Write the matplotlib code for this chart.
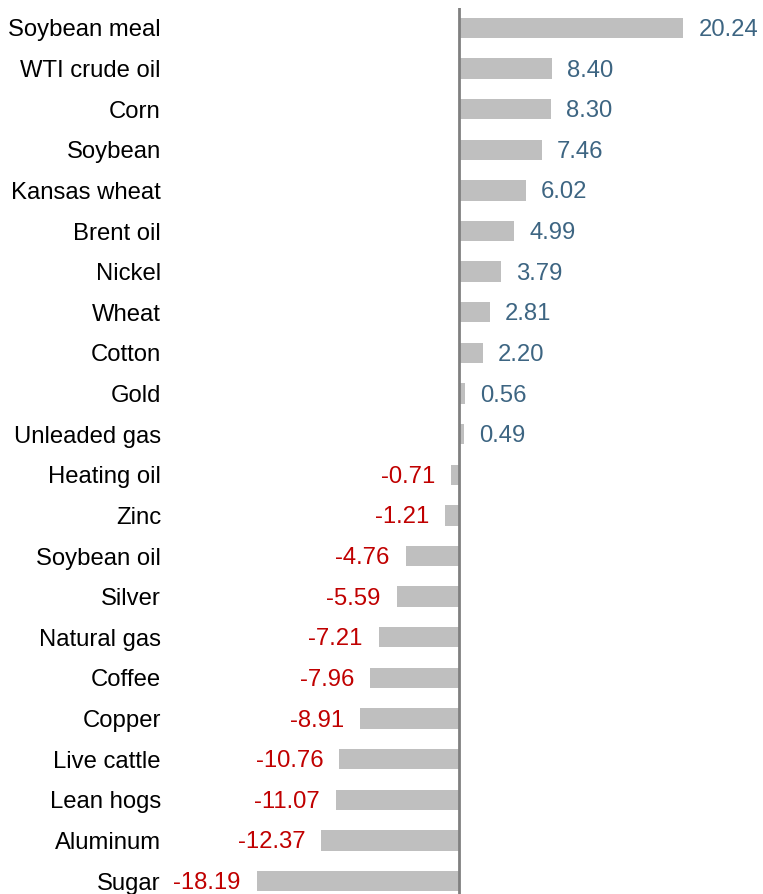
import matplotlib.pyplot as plt

plt.rcParams['font.family'] = ['Liberation Sans', 'DejaVu Sans']

categories = ['Soybean meal', 'WTI crude oil', 'Corn', 'Soybean', 'Kansas wheat',
              'Brent oil', 'Nickel', 'Wheat', 'Cotton', 'Gold', 'Unleaded gas',
              'Heating oil', 'Zinc', 'Soybean oil', 'Silver', 'Natural gas',
              'Coffee', 'Copper', 'Live cattle', 'Lean hogs', 'Aluminum', 'Sugar']
values = [20.24, 8.40, 8.30, 7.46, 6.02, 4.99, 3.79, 2.81, 2.20, 0.56, 0.49,
          -0.71, -1.21, -4.76, -5.59, -7.21, -7.96, -8.91, -10.76, -11.07,
          -12.37, -18.19]

fig = plt.figure(figsize=(7.63, 8.94), dpi=100)
# axes from x=170px to right edge, y=8px to bottom
ax = fig.add_axes([170 / 763, 0, 593 / 763, 886 / 894])

pos = list(range(len(categories)))
ax.barh(pos, values, height=0.5, color='#BFBFBF')
ax.axvline(0, color='#808080', lw=2)

for y, v in zip(pos, values):
    if v >= 0:
        ax.annotate(f'{v:.2f}', (v, y), xytext=(15, -2), textcoords='offset pixels',
                    ha='left', va='center', fontsize=17.2, color='#3D6582')
    else:
        ax.annotate(f'{v:.2f}', (v, y), xytext=(-16, -2), textcoords='offset pixels',
                    ha='right', va='center', fontsize=17.2, color='#C00000')

ax.set_xlim(-26.0, 27.4)
ax.set_ylim(21.32, -0.49)
ax.set_yticks(pos)
ax.set_yticklabels(categories, fontsize=17.2)
ax.tick_params(axis='y', length=0, pad=6.5)
ax.set_xticks([])
for s in ax.spines.values():
    s.set_visible(False)

plt.savefig('out.png', dpi=100)
